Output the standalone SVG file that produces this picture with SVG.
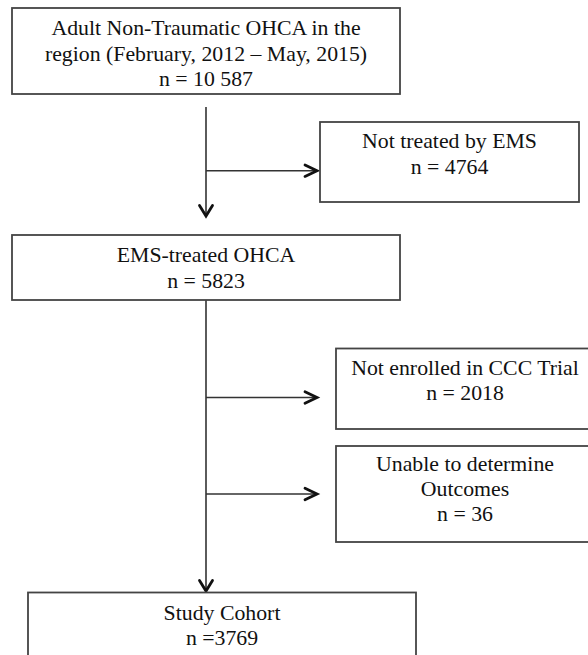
<svg xmlns="http://www.w3.org/2000/svg" width="588" height="655" viewBox="0 0 588 655">
<style>
.box{fill:#fff;stroke:#444;stroke-width:1.8}
.t{font-family:"Liberation Serif","Times New Roman",serif;font-size:21.8px;fill:#111;text-anchor:middle}
.ln{stroke:#333;stroke-width:1.6;fill:none}
.ah{stroke:#111;stroke-width:2.8;fill:none;stroke-linecap:round;stroke-linejoin:miter}
</style>
<rect width="588" height="655" fill="#fff"/>
<g id="connectors">
<line class="ln" x1="206" y1="107" x2="206" y2="216"/>
<polyline class="ah" points="199.5,205.5 206,216 212.5,205.5"/>
<line class="ln" x1="206" y1="170.7" x2="317" y2="170.7"/>
<polyline class="ah" points="305,165 317,170.7 305,176.4"/>
<line class="ln" x1="206" y1="300" x2="206" y2="591"/>
<polyline class="ah" points="199.5,580.5 206,591 212.5,580.5"/>
<line class="ln" x1="206" y1="397.5" x2="317" y2="397.5"/>
<polyline class="ah" points="305,391.8 317,397.5 305,403.2"/>
<line class="ln" x1="206" y1="494" x2="317" y2="494"/>
<polyline class="ah" points="305,488.3 317,494 305,499.7"/>
</g>
<g id="n1">
<rect class="box" x="12" y="8" width="388" height="86"/>
<text class="t" x="206" y="35">Adult Non-Traumatic OHCA in the</text>
<text class="t" x="206" y="61">region (February, 2012 – May, 2015)</text>
<text class="t" x="206" y="86">n = 10 587</text>
</g>
<g id="n2">
<rect class="box" x="320" y="122" width="259" height="80"/>
<text class="t" x="449.5" y="148">Not treated by EMS</text>
<text class="t" x="449.5" y="174">n = 4764</text>
</g>
<g id="n3">
<rect class="box" x="12" y="235" width="388" height="65"/>
<text class="t" x="206" y="262">EMS-treated OHCA</text>
<text class="t" x="206" y="288">n = 5823</text>
</g>
<g id="n4">
<rect class="box" x="336" y="348.5" width="258" height="80.5"/>
<text class="t" x="465" y="375">Not enrolled in CCC Trial</text>
<text class="t" x="465" y="400">n = 2018</text>
</g>
<g id="n5">
<rect class="box" x="336" y="446" width="258" height="96"/>
<text class="t" x="465" y="471">Unable to determine</text>
<text class="t" x="465" y="496">Outcomes</text>
<text class="t" x="465" y="521">n = 36</text>
</g>
<g id="n6">
<rect class="box" x="28" y="592.5" width="388" height="80"/>
<text class="t" x="222" y="620">Study Cohort</text>
<text class="t" x="222" y="645">n =3769</text>
</g>
</svg>
